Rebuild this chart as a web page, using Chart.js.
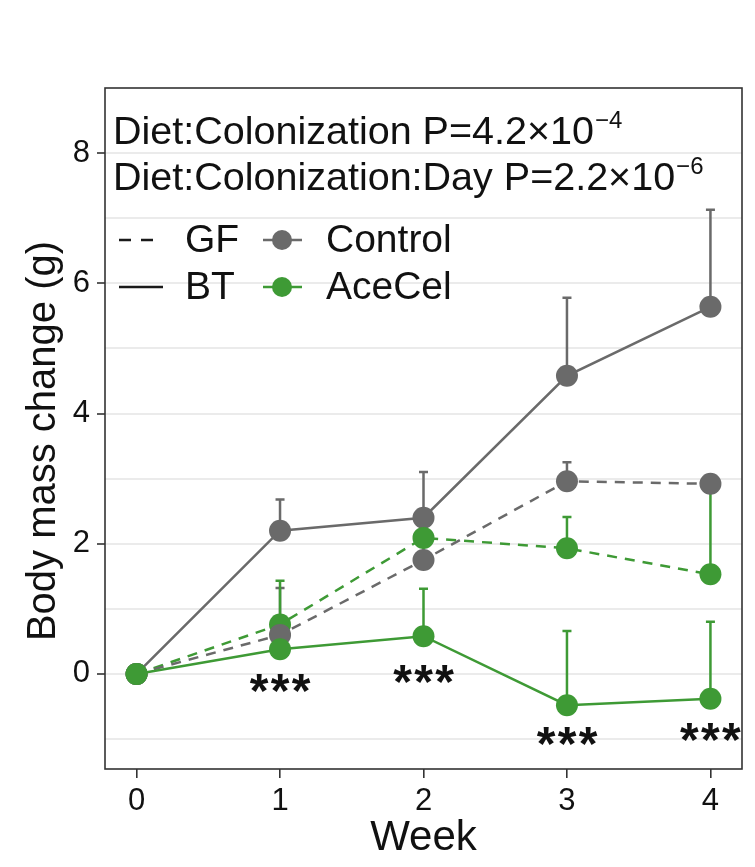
<!DOCTYPE html>
<html>
<head>
<meta charset="utf-8">
<script src="https://cdn.jsdelivr.net/npm/chart.js@4.4.1/dist/chart.umd.min.js"></script>
<style>
  html, body { margin: 0; padding: 0; background: #fff; }
  canvas { display: block; }
</style>
</head>
<body>
<canvas id="massChart" width="755" height="867"></canvas>
<script>
// weeks on the x axis
const weeks = [0, 1, 2, 3, 4];
const yTicks = [-1, 0, 1, 2, 3, 4, 5, 6, 7, 8];

// mean body mass change (g)
const controlBT = [0, 2.2, 2.4, 4.58, 5.64];
const controlGF = [0, 0.6, 1.75, 2.96, 2.92];
const aceBT = [0, 0.38, 0.58, -0.48, -0.38];
const aceGF = [0, 0.76, 2.09, 1.93, 1.53];

// upper end of error bars
const controlBTErr = [0, 2.68, 3.1, 5.78, 7.13];
const controlGFErr = [0, 1.32, 2.05, 3.25, 3.0];
const aceBTErr = [0, 0.85, 1.31, 0.66, 0.8];
const aceGFErr = [0, 1.43, 2.42, 2.41, 2.86];

// significance stars: week and y position
const starWeeks = [1, 2, 3, 4];
const starY = [-0.17, -0.03, -0.98, -0.92];

const GREY = "#6a6a6a";
const GREEN = "#3e9a35";
const FONT = "'Liberation Sans', Arial, sans-serif";

const xy = (vals) => weeks.map((w, i) => ({ x: w, y: vals[i] }));

function lineSet(label, vals, err, color, dashed) {
  return {
    label: label,
    data: xy(vals),
    err: err,
    borderColor: color,
    backgroundColor: color,
    pointBackgroundColor: color,
    pointBorderColor: color,
    pointRadius: 11,
    pointBorderWidth: 0,
    borderWidth: 2.5,
    borderDash: dashed ? [10, 8] : [],
    tension: 0,
    fill: false
  };
}

const errorBars = {
  id: "errorBars",
  beforeDatasetsDraw(chart) {
    const ctx = chart.ctx;
    const xs = chart.scales.x, ys = chart.scales.y;
    ctx.save();
    chart.data.datasets.forEach((ds) => {
      ctx.strokeStyle = ds.borderColor;
      ctx.lineWidth = 2.5;
      ds.data.forEach((p, i) => {
        const top = ds.err[i];
        if (top <= p.y) return;
        const px = xs.getPixelForValue(p.x);
        const y0 = ys.getPixelForValue(p.y);
        const y1 = ys.getPixelForValue(top);
        ctx.beginPath();
        ctx.moveTo(px, y0);
        ctx.lineTo(px, y1);
        ctx.moveTo(px - 4.5, y1);
        ctx.lineTo(px + 4.5, y1);
        ctx.stroke();
      });
    });
    ctx.restore();
  }
};

function supText(ctx, x, y, base, sup) {
  ctx.font = "39.5px " + FONT;
  ctx.fillText(base, x, y);
  const w = ctx.measureText(base).width;
  ctx.font = "24px " + FONT;
  ctx.fillText(sup, x + w + 1, y - 16);
}

const extras = {
  id: "extras",
  afterDraw(chart) {
    const ctx = chart.ctx;
    const a = chart.chartArea;
    const xs = chart.scales.x, ys = chart.scales.y;
    ctx.save();

    // panel border
    ctx.strokeStyle = "#333";
    ctx.lineWidth = 1.6;
    ctx.strokeRect(a.left, a.top, a.right - a.left, a.bottom - a.top);

    // axis titles
    ctx.fillStyle = "#111";
    ctx.textAlign = "center";
    ctx.textBaseline = "middle";
    ctx.font = "42px " + FONT;
    ctx.fillText("Week", (a.left + a.right) / 2, 838);
    ctx.save();
    ctx.translate(44, 441);
    ctx.rotate(-Math.PI / 2);
    ctx.font = "40px " + FONT;
    ctx.fillText("Body mass change (g)", 0, 0);
    ctx.restore();

    // stars
    ctx.font = "bold 48px " + FONT;
    starWeeks.forEach((w, i) => {
      const cx = xs.getPixelForValue(w);
      const cy = ys.getPixelForValue(starY[i]) + 9;
      [-21, 0, 21].forEach((dx) => ctx.fillText("*", cx + dx, cy));
    });

    // p-value annotations
    ctx.textAlign = "left";
    ctx.textBaseline = "alphabetic";
    supText(ctx, 113, 144, "Diet:Colonization P=4.2\u00d710", "\u22124");
    supText(ctx, 113, 190, "Diet:Colonization:Day P=2.2\u00d710", "\u22126");

    // legend
    const rows = [240, 287];
    ctx.strokeStyle = "#1a1a1a";
    ctx.lineWidth = 2.5;
    ctx.setLineDash([12, 10]);
    ctx.beginPath(); ctx.moveTo(119, rows[0]); ctx.lineTo(163, rows[0]); ctx.stroke();
    ctx.setLineDash([]);
    ctx.beginPath(); ctx.moveTo(119, rows[1]); ctx.lineTo(163, rows[1]); ctx.stroke();

    [GREY, GREEN].forEach((c, i) => {
      ctx.strokeStyle = c;
      ctx.fillStyle = c;
      ctx.beginPath(); ctx.moveTo(263, rows[i]); ctx.lineTo(302, rows[i]); ctx.stroke();
      ctx.beginPath(); ctx.arc(282, rows[i], 10, 0, Math.PI * 2); ctx.fill();
    });

    ctx.fillStyle = "#111";
    ctx.font = "39px " + FONT;
    ctx.textBaseline = "middle";
    ctx.fillText("GF", 185, rows[0] + 1);
    ctx.fillText("BT", 185, rows[1] + 1);
    ctx.fillText("Control", 326, rows[0] + 1);
    ctx.fillText("AceCel", 326, rows[1] + 1);
    ctx.restore();
  }
};

new Chart(document.getElementById("massChart"), {
  type: "line",
  data: {
    datasets: [
      lineSet("AceCel BT", aceBT, aceBTErr, GREEN, false),
      lineSet("Control GF", controlGF, controlGFErr, GREY, true),
      lineSet("AceCel GF", aceGF, aceGFErr, GREEN, true),
      lineSet("Control BT", controlBT, controlBTErr, GREY, false)
    ]
  },
  options: {
    responsive: false,
    animation: false,
    devicePixelRatio: 1,
    layout: { padding: { top: 88, right: 13, left: 0, bottom: 0 } },
    plugins: { legend: { display: false }, tooltip: { enabled: false } },
    scales: {
      x: {
        type: "linear",
        min: -0.22,
        max: 4.22,
        afterBuildTicks: (s) => { s.ticks = weeks.map((v) => ({ value: v })); },
        afterFit: (s) => { s.height = 98; },
        grid: { drawOnChartArea: false, tickLength: 9, tickColor: "#333", lineWidth: 1.6 },
        border: { display: false },
        ticks: { color: "#111", font: { family: FONT, size: 31 }, padding: 5, maxRotation: 0 }
      },
      y: {
        type: "linear",
        min: -1.46,
        max: 9.0,
        afterBuildTicks: (s) => { s.ticks = yTicks.map((v) => ({ value: v })); },
        afterFit: (s) => { s.width = 105; },
        grid: {
          color: "#ebebeb",
          lineWidth: 2,
          tickLength: 8,
          tickColor: (c) => (c.tick && c.tick.value % 2 === 0 ? "#333" : "rgba(0,0,0,0)"),
          tickWidth: 1.6
        },
        border: { display: false },
        ticks: {
          color: "#111",
          font: { family: FONT, size: 31 },
          padding: 7,
          callback: (v) => (v % 2 === 0 ? String(v) : "")
        }
      }
    }
  },
  plugins: [errorBars, extras]
});
</script>
</body>
</html>
